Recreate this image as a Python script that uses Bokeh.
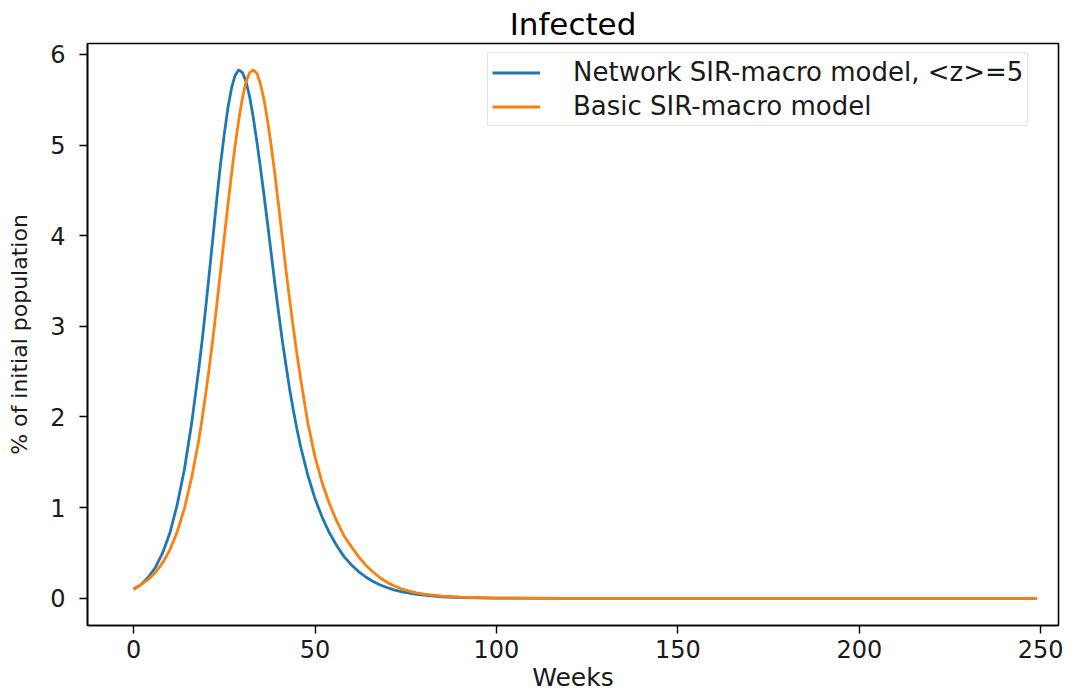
from bokeh.plotting import figure
from bokeh.models import Range1d, FixedTicker, ColumnDataSource
from bokeh.embed import file_html
from bokeh.resources import INLINE

# ---- data ----
weeks = [0, 2, 4, 6, 8, 10, 12, 14, 16,
         18, 19, 20, 21, 22, 23, 24, 25, 26, 27, 28, 29, 30, 31, 32,
         33, 34, 35, 36, 37, 38, 39, 40, 41, 42, 43, 44, 45, 46,
         48, 50, 52, 54, 56, 58, 60, 62, 64, 66, 68, 70, 72, 74, 76, 78,
         80, 85, 90, 100, 120, 150, 200, 249]

network_sir = [0.10, 0.15, 0.23, 0.34, 0.50, 0.72, 1.03, 1.42, 1.93,
               2.54, 2.88, 3.25, 3.64, 4.03, 4.43, 4.80, 5.12, 5.41, 5.63, 5.77,
               5.83, 5.80, 5.70, 5.53,
               5.30, 5.03, 4.74, 4.43, 4.11, 3.78, 3.45, 3.14, 2.84, 2.57, 2.31,
               2.08, 1.87, 1.68,
               1.36, 1.10, 0.89, 0.72, 0.58, 0.46, 0.37, 0.295, 0.235, 0.186,
               0.147, 0.116, 0.091, 0.072, 0.056, 0.044,
               0.034, 0.017, 0.009, 0.002, 0.0003, 0.0, 0.0, 0.0]

basic_sir = [0.10, 0.15, 0.205, 0.285, 0.39, 0.535, 0.73, 0.99, 1.33,
             1.75, 2.01, 2.29, 2.59, 2.91, 3.26, 3.62, 3.98, 4.34, 4.68, 5.00,
             5.28, 5.52, 5.70, 5.80,
             5.83, 5.79, 5.67, 5.49, 5.25, 4.97, 4.66, 4.32, 3.97, 3.62, 3.30,
             2.99, 2.70, 2.43,
             1.94, 1.56, 1.27, 1.04, 0.85, 0.69, 0.57, 0.46, 0.365, 0.29,
             0.224, 0.173, 0.134, 0.103, 0.079, 0.061,
             0.046, 0.024, 0.012, 0.003, 0.0003, 0.0, 0.0, 0.0]

x_ticks = [0, 50, 100, 150, 200, 250]
y_ticks = [0, 1, 2, 3, 4, 5, 6]

series_names = ["Network SIR-macro model, <z>=5", "Basic SIR-macro model"]
series_colors = ["#1f77b4", "#ff7f0e"]

FONT = "DejaVu Sans"

p = figure(width=1089, height=698,
           x_range=Range1d(-12.7, 254.9), y_range=Range1d(-0.3, 6.12),
           output_backend="svg", toolbar_location=None,
           min_border_left=87, min_border_right=31,
           min_border_top=43, min_border_bottom=73,
           title="Infected")

p.title.text_font = FONT
p.title.text_font_size = "31px"
p.title.text_font_style = "normal"
p.title.align = "center"
p.title.standoff = 4
p.title.text_color = "black"

src = ColumnDataSource(dict(w=weeks, a=network_sir, b=basic_sir))
p.line("w", "a", source=src, line_color=series_colors[0], line_width=2.8,
       legend_label=series_names[0])
p.line("w", "b", source=src, line_color=series_colors[1], line_width=2.8,
       legend_label=series_names[1])

p.xgrid.visible = False
p.ygrid.visible = False
p.outline_line_color = "black"
p.outline_line_width = 1.6
p.outline_line_alpha = 1.0

for ax, ticks in ((p.xaxis[0], x_ticks), (p.yaxis[0], y_ticks)):
    ax.ticker = FixedTicker(ticks=ticks)
    ax.minor_tick_line_color = None
    ax.major_tick_in = 0
    ax.major_tick_out = 8
    ax.major_tick_line_width = 1.4
    ax.major_tick_line_color = "black"
    ax.axis_line_color = "black"
    ax.axis_line_width = 1.6
    ax.major_label_text_font = FONT
    ax.major_label_text_font_size = "24px"
    ax.major_label_text_color = "#1a1a1a"
    ax.axis_label_text_font = FONT
    ax.axis_label_text_font_style = "normal"
    ax.axis_label_text_color = "#1a1a1a"

p.xaxis[0].axis_label = "Weeks"
p.xaxis[0].axis_label_text_font_size = "25px"
p.xaxis[0].major_label_standoff = 6
p.xaxis[0].axis_label_standoff = 2

p.yaxis[0].axis_label = "% of initial population"
p.yaxis[0].axis_label_text_font_size = "22px"
p.yaxis[0].major_label_standoff = 14
p.yaxis[0].axis_label_standoff = 15

lg = p.legend[0]
lg.location = (400, 499)
lg.label_text_font = FONT
lg.label_text_font_size = "26px"
lg.label_text_color = "#1a1a1a"
lg.glyph_width = 48
lg.glyph_height = 27
lg.label_height = 27
lg.label_standoff = 33
lg.padding = 4
lg.spacing = 4
lg.margin = 0
lg.border_line_color = "#cccccc"
lg.border_line_width = 1.2
lg.background_fill_color = "white"
lg.background_fill_alpha = 0.9

open("out.html", "w").write(file_html(p, INLINE))
